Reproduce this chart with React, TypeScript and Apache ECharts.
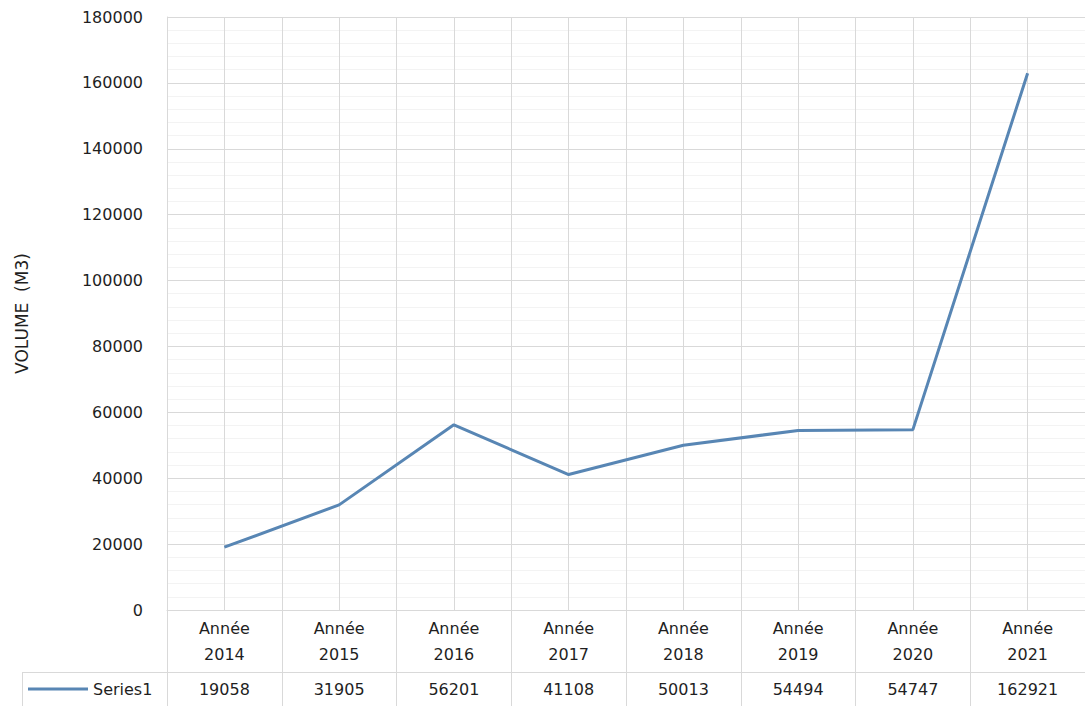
import React, { useEffect, useRef } from "react";
import * as echarts from "echarts";

// Yearly volumes (m3)
const years = ["2014", "2015", "2016", "2017", "2018", "2019", "2020", "2021"];
const volumes = [19058, 31905, 56201, 41108, 50013, 54494, 54747, 162921];
const seriesName = "Series1";
const axisTitle = "VOLUME  (M3)";

const textColor = "#1f1f1f";
const gridColor = "#d9d9d9";
const lineColor = "#5886b4";
const fontFamily = "'DejaVu Sans', 'Noto Sans', sans-serif";
const fontSize = 16;
const fontWeight = "normal";

export default function App() {
  const ref = useRef<HTMLDivElement>(null);

  useEffect(() => {
    if (!ref.current) return;
    const chart = echarts.init(ref.current, undefined, { renderer: "svg" });
    const categories = years.map((y) => `Année\n${y}`);
    const tableValues = volumes.map((v) => String(v));

    chart.setOption({
      animation: false,
      backgroundColor: "#ffffff",
      textStyle: { fontFamily },
      grid: { left: 167, top: 17, right: -8, bottom: 96, containLabel: false },
      legend: {
        data: [{ name: seriesName, icon: "rect" }],
        left: 28,
        top: 681,
        padding: 0,
        itemWidth: 60,
        itemHeight: 3,
        itemGap: 7,
        textStyle: { color: textColor, fontSize, fontWeight, fontFamily },
      },
      xAxis: [
        {
          type: "category",
          data: categories,
          boundaryGap: true,
          axisLine: { show: true, lineStyle: { color: gridColor, width: 1 } },
          axisTick: {
            show: true,
            alignWithLabel: false,
            length: 96,
            lineStyle: { color: gridColor, width: 1 },
          },
          splitLine: { show: false },
          axisLabel: {
            color: textColor,
            fontSize,
            fontWeight,
            lineHeight: 26,
            margin: 5,
            interval: 0,
            fontFamily,
          },
        },
        {
          // data table row with the values
          type: "category",
          data: tableValues,
          position: "bottom",
          offset: 62,
          boundaryGap: true,
          axisLine: { show: true, lineStyle: { color: gridColor, width: 1 } },
          axisTick: { show: false },
          splitLine: { show: false },
          axisLabel: {
            color: textColor,
            fontSize,
            fontWeight,
            margin: 9,
            interval: 0,
            fontFamily,
          },
        },
        {
          // vertical grid at column edges and centres
          type: "value",
          min: 0,
          max: years.length,
          interval: 0.5,
          position: "top",
          axisLine: { show: false },
          axisTick: { show: false },
          axisLabel: { show: false },
          splitLine: { show: true, lineStyle: { color: gridColor, width: 1 } },
        },
      ],
      yAxis: {
        type: "value",
        min: 0,
        max: 180000,
        interval: 20000,
        name: axisTitle,
        nameLocation: "middle",
        nameGap: 137,
        nameTextStyle: { color: textColor, fontSize: 17, fontWeight, fontFamily },
        axisLine: { show: true, lineStyle: { color: gridColor, width: 1 } },
        axisTick: { show: false },
        axisLabel: {
          color: textColor,
          fontSize,
          fontWeight,
          margin: 24,
          fontFamily,
          formatter: (v: number) => String(v),
        },
        splitLine: { show: true, lineStyle: { color: gridColor, width: 1 } },
        minorTick: { show: false, splitNumber: 5 },
        minorSplitLine: { show: true, lineStyle: { color: "#f3f3f3", width: 1 } },
      },
      graphic: [
        {
          type: "line",
          shape: { x1: 22, y1: 672.5, x2: 167, y2: 672.5 },
          style: { stroke: gridColor, lineWidth: 1 },
          silent: true,
        },
        {
          type: "line",
          shape: { x1: 22.5, y1: 672, x2: 22.5, y2: 706 },
          style: { stroke: gridColor, lineWidth: 1 },
          silent: true,
        },
      ],
      series: [
        {
          name: seriesName,
          type: "line",
          data: volumes,
          xAxisIndex: 0,
          symbol: "none",
          lineStyle: { color: lineColor, width: 3 },
          itemStyle: { color: lineColor },
        },
      ],
    });

    return () => chart.dispose();
  }, []);

  return (
    <div
      ref={ref}
      style={{ position: "fixed", left: 0, top: 0, width: 1085, height: 706 }}
    />
  );
}
